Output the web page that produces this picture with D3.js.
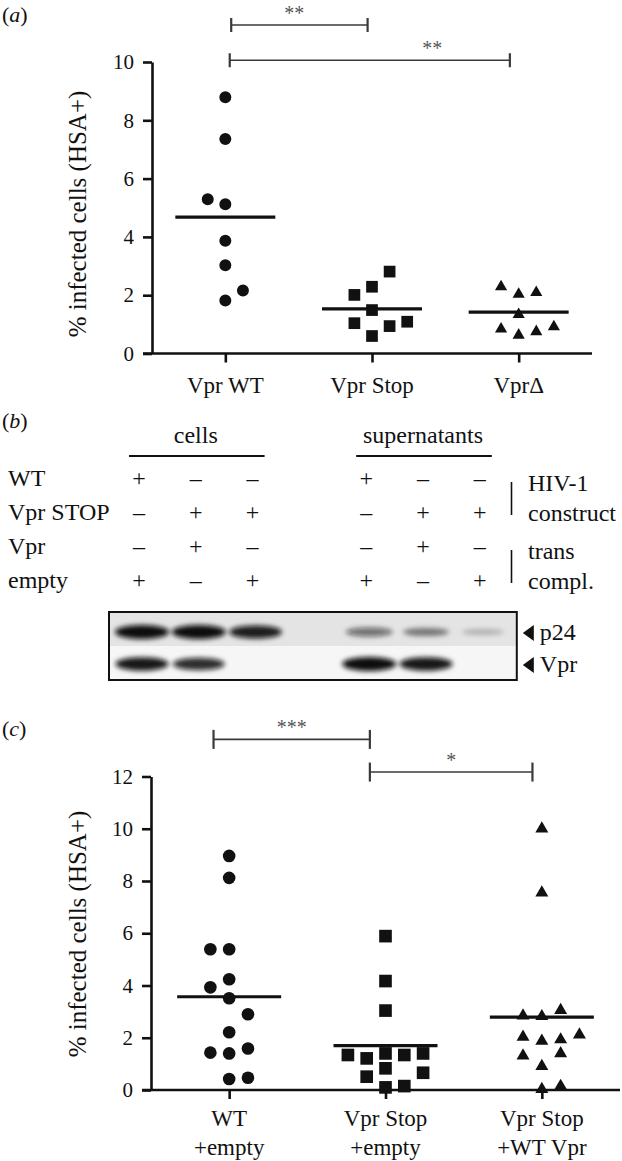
<!DOCTYPE html>
<html>
<head>
<meta charset="utf-8">
<script src="https://cdn.jsdelivr.net/npm/d3@7"></script>
<style>
  body { margin: 0; background: #fff; }
  svg { display: block; font-family: "Liberation Serif", "DejaVu Serif", serif; }
</style>
</head>
<body>
<div id="figure"></div>
<script>
// ---- panel (a) values ----
const catsA = [["Vpr WT"], ["Vpr Stop"], ["VprΔ"]];
const aWT    = [8.79, 7.36, 5.29, 5.12, 3.87, 3.03, 2.16, 1.82];
const aStop  = [2.81, 2.29, 2.01, 1.49, 1.04, 0.94, 1.09, 0.60];
const aDelta = [2.35, 2.09, 2.15, 1.40, 0.90, 0.69, 0.81, 0.98];
// jitter slot of every dot (same order as the values)
const aWTSlot    = [0, 0, -1, 0, 0, 0, 1, 0];
const aStopSlot  = [1, 0, -1, 0, -1, 1, 2, 0];
const aDeltaSlot = [-1, 0, 1, 0, -1, 0, 1, 2];
const ticksA = [0, 2, 4, 6, 8, 10];
// significance brackets: category index from/to, where the stars sit, height in % units
const bracketsA = [
  {from: 0.04, to: 0.97, at: 0.47, level: 11.27, label: "**"},
  {from: 0.03, to: 1.94, at: 1.41, level: 10.06, label: "**"}
];

// ---- panel (b) western blot table ----
const rowsB = ["WT", "Vpr STOP", "Vpr", "empty"];
const groupsB = ["cells", "supernatants"];
const signsB = [
  ["+", "–", "–", "+", "–", "–"],
  ["–", "+", "+", "–", "+", "+"],
  ["–", "+", "–", "–", "+", "–"],
  ["+", "–", "+", "+", "–", "+"]
];
const sideB = [["HIV-1", "construct"], ["trans", "compl."]];
const bandNames = ["p24", "Vpr"];
const p24Level = [1.0, 1.0, 0.92, 0.5, 0.42, 0.15];
const vprLevel = [0.95, 0.85, 0, 1.0, 0.95, 0];

// ---- panel (c) values ----
const catsC = [["WT", "+empty"], ["Vpr Stop", "+empty"], ["Vpr Stop", "+WT Vpr"]];
const cWT   = [8.96, 8.12, 5.39, 5.39, 4.24, 3.93, 3.51, 2.90, 2.21, 1.43, 1.40, 1.59, 0.42, 0.47];
const cStop = [5.89, 4.17, 3.04, 1.34, 1.21, 1.40, 1.34, 1.40, 0.51, 0.83, 0.66, 0.10, 0.15];
const cRes  = [10.07, 7.62, 3.12, 2.91, 2.89, 2.10, 1.95, 2.00, 2.19, 1.38, 1.47, 0.98, 0.10, 0.22];
const cWTSlot   = [0, 0, -1, 0, 0, -1, 0, 1, 0, -1, 0, 1, 0, 1];
const cStopSlot = [0, 0, 0, -2, -1, 0, 1, 2, -1, 0, 2, 0, 1];
const cResSlot  = [0, 0, 1, -1, 0, -1, 0, 1, 2, -1, 1, 0, 0, 1];
const ticksC = [0, 2, 4, 6, 8, 10, 12];
const bracketsC = [
  {from: -0.10, to: 0.90, at: 0.40, level: 13.42, label: "***"},
  {from: 0.90, to: 1.94, at: 1.42, level: 12.17, label: "*"}
];

const width = 622, height = 1161;
const ink = "#111";

const svg = d3.select("#figure")
  .append("svg")
  .attr("width", width)
  .attr("height", height);

// panel letters "(a)" etc
function panelLetter(letter, y) {
  const t = svg.append("text").attr("x", 2).attr("y", y)
    .attr("font-size", 22).attr("fill", ink);
  t.append("tspan").text("(");
  t.append("tspan").attr("font-style", "italic").text(letter);
  t.append("tspan").text(")");
}

// dot plot used for (a) and (c)
function dotPanel(cfg) {
  const x = d3.scalePoint().domain(d3.range(cfg.cats.length)).range(cfg.xRange).padding(0.5);
  const y = d3.scaleLinear().domain([0, cfg.yMax]).range(cfg.yRange);
  const slot = d3.scaleLinear().domain([0, 1]).range([0, cfg.slotW]);
  const idx = d3.scaleLinear().domain([0, 1]).range([x(0), x(1)]);

  // y axis
  const ya = svg.append("g")
    .attr("transform", `translate(${cfg.xRange[0]},0)`)
    .call(d3.axisLeft(y).tickValues(cfg.ticks).tickSize(9).tickSizeOuter(0).tickPadding(9))
    .attr("font-family", null).attr("font-size", 21);
  // x axis, its line runs a little left past the y axis
  const xa = svg.append("g")
    .attr("transform", `translate(0,${cfg.yRange[0]})`)
    .call(d3.axisBottom(x).tickSize(9).tickSizeOuter(0).tickFormat(""));
  xa.select(".domain").attr("d", `M${cfg.xRange[0] - 9},0H${cfg.xRange[1]}`);
  [ya, xa].forEach(g => {
    g.selectAll("path, line").attr("stroke", ink).attr("stroke-width", 2.6);
    g.selectAll("text").attr("fill", ink);
  });

  // category labels (one or two lines)
  svg.append("g").selectAll("text")
    .data(cfg.cats)
    .join("text")
      .attr("text-anchor", "middle")
      .attr("font-size", 23)
      .attr("fill", ink)
      .attr("transform", (d, i) => `translate(${x(i)},${cfg.yRange[0]})`)
    .selectAll("tspan")
    .data(d => d)
    .join("tspan")
      .attr("x", 0)
      .attr("y", (d, j) => cfg.labelY + j * 29)
      .text(d => d);

  // y title
  svg.append("text")
    .attr("transform", `translate(86,${cfg.titleY}) rotate(-90)`)
    .attr("text-anchor", "middle")
    .attr("font-size", 25)
    .attr("fill", ink)
    .text("% infected cells (HSA+)");

  // dots and mean bars
  cfg.series.forEach((s, i) => {
    const sym = d3.symbol().type(s.type).size(s.size);
    const dy = s.type === d3.symbolTriangle ? Math.sqrt(s.size / (Math.sqrt(3) * 3)) / 2 : 0;
    svg.append("g").selectAll("path")
      .data(s.values)
      .join("path")
        .attr("d", sym)
        .attr("fill", ink)
        .attr("transform", (d, k) => `translate(${x(i) + slot(s.slots[k])},${y(d) + dy})`);
    const m = d3.mean(s.values);
    svg.append("line")
      .attr("x1", x(i) - cfg.meanW / 2).attr("x2", x(i) + cfg.meanW / 2)
      .attr("y1", y(m)).attr("y2", y(m))
      .attr("stroke", ink).attr("stroke-width", 3.2);
  });

  // significance brackets
  cfg.brackets.forEach(b => {
    const by = y(b.level);
    const g = svg.append("g").attr("stroke", "#3a3a3a").attr("stroke-width", 1.6);
    g.append("line").attr("x1", idx(b.from)).attr("x2", idx(b.to)).attr("y1", by).attr("y2", by);
    [b.from, b.to].forEach(e => {
      g.append("line").attr("x1", idx(e)).attr("x2", idx(e))
        .attr("y1", by - cfg.capH / 2).attr("y2", by + cfg.capH / 2).attr("stroke-width", 2.2);
    });
    svg.append("text")
      .attr("x", idx(b.at)).attr("y", by - 5)
      .attr("text-anchor", "middle")
      .attr("font-size", 20)
      .attr("fill", "#555")
      .text(b.label);
  });
}

// ---------- panel (a) ----------
panelLetter("a", 22);
dotPanel({
  cats: catsA, yMax: 10, ticks: ticksA,
  xRange: [152, 592], yRange: [353.5, 62],
  slotW: 17.6, meanW: 100, labelY: 39, titleY: 214, capH: 14,
  brackets: bracketsA,
  series: [
    {values: aWT, slots: aWTSlot, type: d3.symbolCircle, size: 113},
    {values: aStop, slots: aStopSlot, type: d3.symbolSquare, size: 137},
    {values: aDelta, slots: aDeltaSlot, type: d3.symbolTriangle, size: 64}
  ]
});

// ---------- panel (b) ----------
panelLetter("b", 428);
const lane = d3.scalePoint().domain(d3.range(7)).range([139, 139 + 6 * 56.8]);
const laneX = i => lane(i < 3 ? i : i + 1);   // gap between cells and supernatants
const rowY = d3.scaleLinear().domain([0, 1]).range([486, 520]);

// group headings with rule under them
groupsB.forEach((name, gi) => {
  const x0 = laneX(gi * 3), x1 = laneX(gi * 3 + 2);
  svg.append("text").attr("x", (x0 + x1) / 2).attr("y", 443)
    .attr("text-anchor", "middle").attr("font-size", 24).attr("fill", ink).text(name);
  svg.append("line").attr("x1", x0 - 10).attr("x2", x1 + 12)
    .attr("y1", 456).attr("y2", 456).attr("stroke", ink).attr("stroke-width", 1.8);
});

// row names and +/- signs
rowsB.forEach((r, ri) => {
  svg.append("text").attr("x", 8).attr("y", rowY(ri))
    .attr("font-size", 24).attr("fill", ink).text(r);
  svg.append("g").selectAll("text")
    .data(signsB[ri])
    .join("text")
      .attr("x", (d, li) => laneX(li))
      .attr("y", rowY(ri))
      .attr("text-anchor", "middle")
      .attr("font-size", 24)
      .attr("fill", ink)
      .text(d => d);
});

// side notes with a vertical bar
sideB.forEach((lines, si) => {
  const r0 = si * 2, r1 = si * 2 + 1;
  svg.append("line").attr("x1", 511.5).attr("x2", 511.5)
    .attr("y1", rowY(r0) - 4).attr("y2", rowY(r1) - 5)
    .attr("stroke", ink).attr("stroke-width", 1.6);
  lines.forEach((t, k) => {
    svg.append("text").attr("x", 528).attr("y", k === 0 ? rowY(r0) + 5 : rowY(r1) + 1)
      .attr("font-size", 24).attr("fill", ink).text(t);
  });
});

// blot
const gelTop = 612, stripH = 34;
const gelX0 = laneX(0) - 30, gelX1 = laneX(5) + 37;
const defs = svg.append("defs");
defs.append("filter").attr("id", "blur").attr("x", "-30%").attr("y", "-80%").attr("width", "160%").attr("height", "260%")
  .append("feGaussianBlur").attr("stdDeviation", 2.4);
svg.append("rect").attr("x", gelX0).attr("y", gelTop).attr("width", gelX1 - gelX0).attr("height", stripH)
  .attr("fill", "#e4e4e4");
svg.append("rect").attr("x", gelX0).attr("y", gelTop + stripH).attr("width", gelX1 - gelX0).attr("height", stripH)
  .attr("fill", "#f6f6f6");

const bandH = d3.scaleLinear().domain([0, 1]).range([4, 14]);
const bandW = d3.scaleLinear().domain([0, 1]).range([40, 54]);
const bandO = d3.scaleLinear().domain([0, 1]).range([0.12, 1]);
[p24Level, vprLevel].forEach((levels, bi) => {
  const cy = gelTop + stripH * bi + stripH / 2 + (bi === 0 ? 3 : 1);
  svg.append("g").attr("filter", "url(#blur)").selectAll("ellipse")
    .data(levels.map((v, i) => ({v, i})).filter(d => d.v > 0))
    .join("ellipse")
      .attr("cx", d => laneX(d.i) + 3)
      .attr("cy", cy)
      .attr("rx", d => bandW(d.v) / 2)
      .attr("ry", d => bandH(d.v) / 2)
      .attr("fill", "#0d0d0d")
      .attr("opacity", d => bandO(d.v));
  // arrow head and band name
  const ay = cy + 1;
  svg.append("path")
    .attr("d", `M${gelX1 + 6},${ay}L${gelX1 + 17},${ay - 8}L${gelX1 + 17},${ay + 8}Z`)
    .attr("fill", ink);
  svg.append("text").attr("x", gelX1 + 23).attr("y", ay + 7)
    .attr("font-size", 24).attr("fill", ink).text(bandNames[bi]);
});
svg.append("rect").attr("x", gelX0).attr("y", gelTop).attr("width", gelX1 - gelX0).attr("height", stripH * 2)
  .attr("fill", "none").attr("stroke", ink).attr("stroke-width", 2);

// ---------- panel (c) ----------
panelLetter("c", 736);
dotPanel({
  cats: catsC, yMax: 12, ticks: ticksC,
  xRange: [151, 620], yRange: [1090, 776.5],
  slotW: 18.8, meanW: 104, labelY: 36, titleY: 934, capH: 19,
  brackets: bracketsC,
  series: [
    {values: cWT, slots: cWTSlot, type: d3.symbolCircle, size: 125},
    {values: cStop, slots: cStopSlot, type: d3.symbolSquare, size: 160},
    {values: cRes, slots: cResSlot, type: d3.symbolTriangle, size: 73}
  ]
});
</script>
</body>
</html>
